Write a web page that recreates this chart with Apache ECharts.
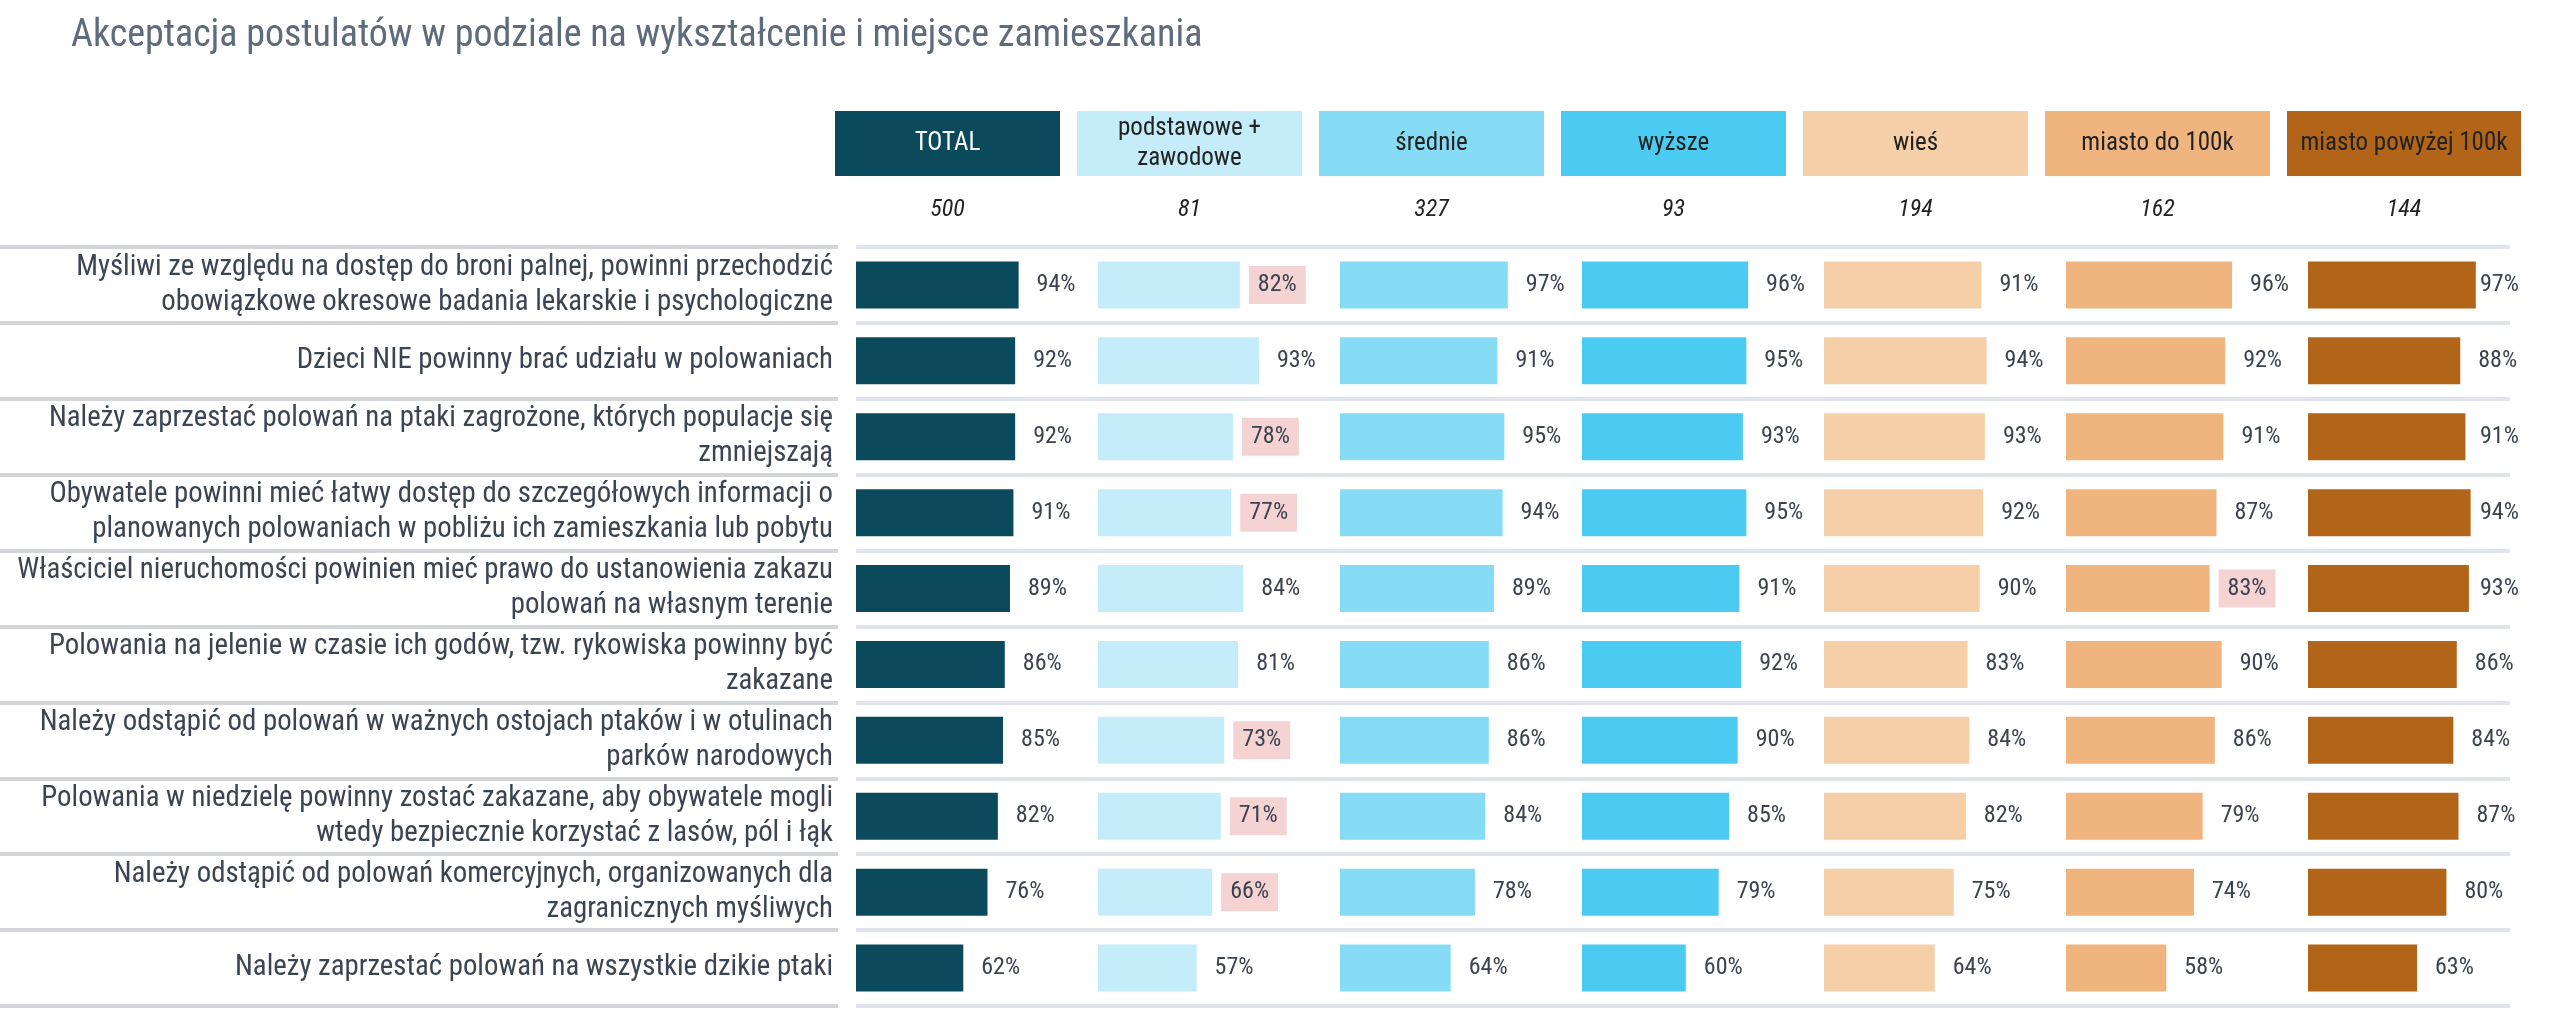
<!DOCTYPE html>
<html>
<head>
<meta charset="utf-8">
<script src="https://cdn.jsdelivr.net/npm/echarts@6/dist/echarts.min.js"></script>
<style>
html,body{margin:0;padding:0;background:#fff;}
#chart{width:2571px;height:1024px;}
</style>
</head>
<body>
<div id="chart"></div>
<script>
// ---------- DATA ----------
const titleText = 'Akceptacja postulatów w podziale na wykształcenie i miejsce zamieszkania';
const columns = ['TOTAL', 'podstawowe +\nzawodowe', 'średnie', 'wyższe', 'wieś', 'miasto do 100k', 'miasto powyżej 100k'];
const sampleSizes = ['500', '81', '327', '93', '194', '162', '144'];
const rowLabels = [
  'Myśliwi ze względu na dostęp do broni palnej, powinni przechodzić\nobowiązkowe okresowe badania lekarskie i psychologiczne',
  'Dzieci NIE powinny brać udziału w polowaniach',
  'Należy zaprzestać polowań na ptaki zagrożone, których populacje się\nzmniejszają',
  'Obywatele powinni mieć łatwy dostęp do szczegółowych informacji o\nplanowanych polowaniach w pobliżu ich zamieszkania lub pobytu',
  'Właściciel nieruchomości powinien mieć prawo do ustanowienia zakazu\npolowań na własnym terenie',
  'Polowania na jelenie w czasie ich godów, tzw. rykowiska powinny być\nzakazane',
  'Należy odstąpić od polowań w ważnych ostojach ptaków i w otulinach\nparków narodowych',
  'Polowania w niedzielę powinny zostać zakazane, aby obywatele mogli\nwtedy bezpiecznie korzystać z lasów, pól i łąk',
  'Należy odstąpić od polowań komercyjnych, organizowanych dla\nzagranicznych myśliwych',
  'Należy zaprzestać polowań na wszystkie dzikie ptaki'
];
const valTotal     = [94, 92, 92, 91, 89, 86, 85, 82, 76, 62];
const valPodst     = [82, 93, 78, 77, 84, 81, 73, 71, 66, 57];
const valSrednie   = [97, 91, 95, 94, 89, 86, 86, 84, 78, 64];
const valWyzsze    = [96, 95, 93, 95, 91, 92, 90, 85, 79, 60];
const valWies      = [91, 94, 93, 92, 90, 83, 84, 82, 75, 64];
const valMiastoDo  = [96, 92, 91, 87, 83, 90, 86, 79, 74, 58];
const valMiastoPow = [97, 88, 91, 94, 93, 86, 84, 87, 80, 63];
// significant (highlighted) cells: [columnIndex, rowIndex]
const highlights = [[1,0],[1,2],[1,3],[1,6],[1,7],[1,8],[5,4]];

// ---------- STYLE / LAYOUT ----------
const FONT = '"Roboto Condensed", "Liberation Sans Narrow", "DejaVu Sans Condensed", "Arial Narrow", Roboto, sans-serif';
const colColors = ['#0b4a5c', '#c4ecf9', '#86dcf5', '#4ccbf2', '#f5cfa8', '#f0b57f', '#b26418'];
const headTextColors = ['#ffffff', '#222222', '#222222', '#222222', '#222222', '#222222', '#222222'];
const allValues = [valTotal, valPodst, valSrednie, valWyzsze, valWies, valMiastoDo, valMiastoPow];

const P0 = 856, STEP = 242, SPAN = 173, TOP = 247, HEIGHT = 759;
const HEAD_Y = 111, HEAD_H = 65, HEAD_OFF = 21;
const LABEL_MAX_X = 2471; // labels of the last column are kept inside the table

const grids = [], xAxes = [], yAxes = [], series = [], graphics = [];

allValues.forEach((vals, i) => {
  const left = P0 + STEP * i;
  const isLast = i === allValues.length - 1;
  grids.push({ left: left, top: TOP, width: SPAN, height: HEIGHT });
  xAxes.push({ gridIndex: i, type: 'value', min: 0, max: 100, show: false });
  yAxes.push({
    gridIndex: i, type: 'category', data: rowLabels, inverse: true,
    show: i === 0,
    axisLine: { show: false }, axisTick: { show: false }, splitLine: { show: false },
    axisLabel: {
      show: i === 0, margin: 23, fontFamily: FONT, fontSize: 28.8, lineHeight: 35,
      color: '#3b4452', align: 'right'
    }
  });
  const s = {
    type: 'bar', xAxisIndex: i, yAxisIndex: i, barWidth: 47,
    itemStyle: { color: colColors[i] },
    data: vals.map((v, r) => {
      const hl = highlights.some(h => h[0] === i && h[1] === r);
      return hl ? { value: v, label: { backgroundColor: '#f5d3d2' } } : v;
    }),
    label: {
      show: true, position: 'right', distance: 9, padding: [7, 9, 7, 9],
      formatter: '{c}%', fontFamily: FONT, fontSize: 24, lineHeight: 24, color: '#3c4350'
    },
    silent: true, animation: false
  };
  if (isLast) {
    s.labelLayout = function (p) {
      const r = p.labelRect;
      return {
        x: Math.min(r.x, LABEL_MAX_X),
        y: r.y + r.height / 2,
        align: 'left',
        verticalAlign: 'middle'
      };
    };
  }
  series.push(s);
  const hw = isLast ? 234 : 225;
  const hx = left - HEAD_OFF;
  graphics.push({
    type: 'rect', shape: { x: hx, y: HEAD_Y, width: hw, height: HEAD_H },
    style: { fill: colColors[i] }, silent: true
  });
  graphics.push({
    type: 'text', x: hx + hw / 2, y: HEAD_Y + HEAD_H / 2,
    style: {
      text: columns[i], fill: headTextColors[i], font: '25px ' + FONT,
      align: 'center', verticalAlign: 'middle', lineHeight: 30
    }, silent: true
  });
  graphics.push({
    type: 'text', x: hx + hw / 2, y: 210,
    style: {
      text: sampleSizes[i], fill: '#222222', font: 'italic 24px ' + FONT,
      align: 'center', verticalAlign: 'middle'
    }, silent: true
  });
});

// separator grids (bars area and label area)
const sepDefs = [
  { left: P0, width: 2510 - P0, color: '#e1e4ea' },
  { left: 0, width: 838, color: '#d3d5d8' }
];
sepDefs.forEach(s => {
  const gi = grids.length;
  grids.push({ left: s.left, top: TOP, width: s.width, height: HEIGHT });
  xAxes.push({ gridIndex: gi, type: 'value', min: 0, max: 1, show: false });
  yAxes.push({
    gridIndex: gi, type: 'category', data: rowLabels, inverse: true,
    axisLine: { show: false }, axisTick: { show: false }, axisLabel: { show: false },
    splitLine: { show: true, lineStyle: { color: s.color, width: 4 } }
  });
});

const chart = echarts.init(document.getElementById('chart'), null, { renderer: 'canvas' });
chart.setOption({
  backgroundColor: '#ffffff',
  animation: false,
  title: {
    text: titleText, left: 66, top: 12,
    textStyle: { fontFamily: FONT, fontSize: 38, fontWeight: 'normal', color: '#5d6b7c' }
  },
  grid: grids, xAxis: xAxes, yAxis: yAxes, series: series, graphic: graphics
});
</script>
</body>
</html>
